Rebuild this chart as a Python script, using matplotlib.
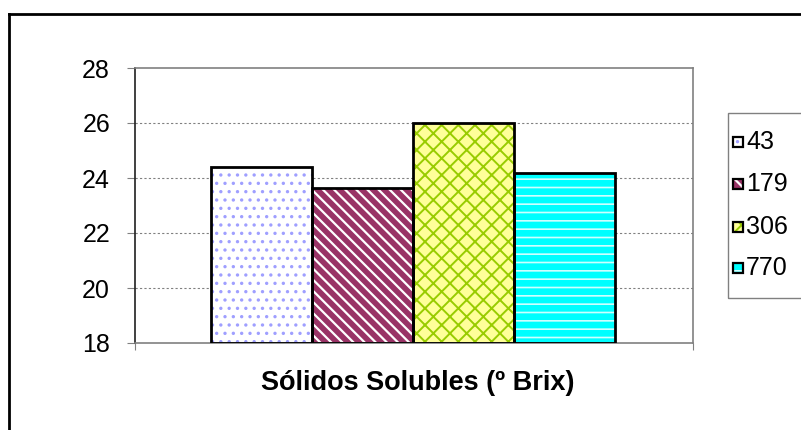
import matplotlib
matplotlib.use("Agg")
import matplotlib.pyplot as plt
from matplotlib.patches import Rectangle
from matplotlib.lines import Line2D

plt.rcParams['font.family'] = ['Liberation Sans', 'DejaVu Sans']
plt.rcParams['hatch.linewidth'] = 1.2

series = ["43", "179", "306", "770"]
values = [24.4, 23.65, 26.0, 24.2]
face_colors = ["#ffffff", "#993366", "#ffff99", "#00ffff"]
hatch_colors = ["#9f9fff", "#ffffff", "#99cc00", "#d0ffff"]
hatches = ["..", "\\\\\\", "xx", "--"]
hatch_lw = [1.2, 1.6, 1.4, 1.2]
category = "Sólidos Solubles (º Brix)"
yticks = [18, 20, 22, 24, 26, 28]

W, H = 801, 430
fig = plt.figure(figsize=(W/100, H/100), dpi=100)
ax = fig.add_axes([135/W, 1-343/H, (693-135)/W, (343-68)/H])


def set_hlw(artist, lw):
    if hasattr(artist, "set_hatch_linewidth"):
        try:
            artist.set_hatch_linewidth(lw)
        except Exception:
            pass


bw = 101
start = 211
for i, (v, fc, hc, h, hl) in enumerate(zip(values, face_colors, hatch_colors, hatches, hatch_lw)):
    x0 = start + i*bw
    bars = ax.bar(x0, v-18, bottom=18, width=bw, align='edge', facecolor=fc, edgecolor=hc,
                  hatch=h, linewidth=0, zorder=2)
    for b in bars:
        set_hlw(b, hl)
    ax.bar(x0, v-18, bottom=18, width=bw, align='edge', fill=False, edgecolor='black',
           linewidth=2, zorder=3)

ax.set_xlim(135, 693)
ax.set_ylim(18, 28)
ax.set_yticks(yticks)
ax.set_yticklabels([str(t) for t in yticks], fontsize=18)
ax.set_xticks([135, 693])
ax.set_xticklabels(["", ""])
ax.tick_params(axis='y', direction='out', length=6, color='#808080', pad=12)
ax.tick_params(axis='x', direction='out', length=5, color='#808080')
for y in [20, 22, 24, 26]:
    ax.axhline(y, color='#808080', linestyle=(0, (2, 2)), linewidth=0.8, zorder=1)
for s in ['top', 'right']:
    ax.spines[s].set_color('#808080')
    ax.spines[s].set_linewidth(1.2)
ax.spines['left'].set_color('#202020')
ax.spines['left'].set_linewidth(1.2)
ax.spines['bottom'].set_color('#808080')
ax.spines['bottom'].set_linewidth(1.2)

fig.text(418/W, 1-383/H, category, fontsize=19.5, fontweight='bold',
         ha='center', va='center')


def fx(px):
    return px / W


def fy(py):
    return 1 - py / H


fig.add_artist(Rectangle((fx(728), fy(298)), fx(830-728), (298-113)/H, fill=False,
                         edgecolor='#808080', linewidth=1.0, transform=fig.transFigure))
entry_y = [142, 184, 227, 268]
for yc, lab, fc, hc, h, hl in zip(entry_y, series, face_colors, hatch_colors, hatches, hatch_lw):
    r1 = Rectangle((fx(733), fy(yc+5)), 10/W, 10/H, facecolor=fc, edgecolor=hc, hatch=h,
                   linewidth=0, transform=fig.transFigure)
    set_hlw(r1, hl)
    fig.add_artist(r1)
    fig.add_artist(Rectangle((fx(733), fy(yc+5)), 10/W, 10/H, fill=False, edgecolor='black',
                             linewidth=1.6, transform=fig.transFigure))
    fig.text(fx(746), fy(yc), lab, fontsize=18, ha='left', va='center')

fig.add_artist(Line2D([9/W, 9/W], [0, 1-14/H], color='black', linewidth=2, transform=fig.transFigure))
fig.add_artist(Line2D([9/W, 1], [1-14/H, 1-14/H], color='black', linewidth=2, transform=fig.transFigure))

fig.savefig("out.png", dpi=100)
